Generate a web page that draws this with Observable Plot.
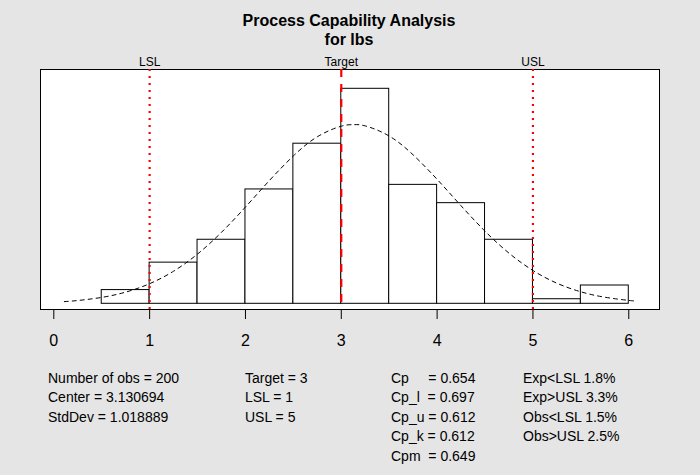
<!DOCTYPE html>
<html>
<head>
<meta charset="utf-8">
<script src="https://cdn.jsdelivr.net/npm/d3@7"></script>
<script src="https://cdn.jsdelivr.net/npm/@observablehq/plot@0.6"></script>
<style>
  html, body { margin: 0; padding: 0; background: #e5e5e5; }
  #wrap { position: relative; width: 700px; height: 475px; background: #e5e5e5; overflow: hidden;
          font-family: "Liberation Sans", Arial, sans-serif; color: #000; }
  #title { position: absolute; left: 0; width: 698px; top: 11px; text-align: center;
           font-weight: bold; font-size: 16px; line-height: 19px; }
  #chart { position: absolute; left: 0; top: 50px; }
  .stats { position: absolute; top: 368.5px; font-size: 14px; line-height: 19.5px; white-space: pre; }
</style>
</head>
<body>
<div id="wrap">
  <div id="title"></div>
  <div id="chart"></div>
  <div class="stats" id="s1" style="left:48px"></div>
  <div class="stats" id="s2" style="left:245px"></div>
  <div class="stats" id="s3" style="left:391px"></div>
  <div class="stats" id="s4" style="left:523px"></div>
</div>
<script>
// ---- data ----
const titleLines = ["Process Capability Analysis", "for lbs"];
const binLo  = [0.5, 1.0, 1.5, 2.0, 2.5, 3.0, 3.5, 4.0, 4.5, 5.0, 5.5];
const binHi  = [1.0, 1.5, 2.0, 2.5, 3.0, 3.5, 4.0, 4.5, 5.0, 5.5, 6.0];
const counts = [3, 9, 14, 25, 35, 47, 26, 22, 14, 1, 4];
const nObs = 200;

// fitted normal density curve
const curveX = [0.11, 0.25, 0.5, 0.75, 1.0, 1.25, 1.5, 1.75, 2.0, 2.25, 2.5, 2.75, 3.0, 3.13, 3.25, 3.5, 3.75, 4.0, 4.25, 4.5, 4.75, 5.0, 5.25, 5.5, 5.75, 6.0, 6.08];
const curveY = [0.0048, 0.0072, 0.0140, 0.0255, 0.0440, 0.0713, 0.1088, 0.1563, 0.2115, 0.2695, 0.3233, 0.3652, 0.3883, 0.3916, 0.3889, 0.3667, 0.3255, 0.2721, 0.2142, 0.1587, 0.1107, 0.0728, 0.0450, 0.0262, 0.0144, 0.0074, 0.0059];

const specLabels = ["LSL", "Target", "USL"];
const specValues = [1, 3, 5];
const specDash   = ["2,5", "8,7", "2,5"];

const xTicks = [0, 1, 2, 3, 4, 5, 6];
const xDomain = [-0.1388, 6.3206];
const yDomain = [-0.01246, 0.5122];

const statsCol1 = ["Number of obs = 200", "Center = 3.130694", "StdDev = 1.018889"];
const statsCol2 = ["Target = 3", "LSL = 1", "USL = 5"];
const statsCol3 = ["Cp     = 0.654", "Cp_l  = 0.697", "Cp_u = 0.612", "Cp_k = 0.612", "Cpm  = 0.649"];
const statsCol4 = ["Exp<LSL 1.8%", "Exp>USL 3.3%", "Obs<LSL 1.5%", "Obs>USL 2.5%"];

// ---- build tables ----
const bins = counts.map((c, i) => ({lo: binLo[i], hi: binHi[i], density: c / (nObs * (binHi[i] - binLo[i]))}));
const curve = curveX.map((x, i) => ({x, y: curveY[i]}));
const specs = specValues.map((v, i) => ({value: v, label: specLabels[i], dash: specDash[i]}));

document.getElementById("title").innerHTML = titleLines.join("<br>");
document.getElementById("s1").textContent = statsCol1.join("\n");
document.getElementById("s2").textContent = statsCol2.join("\n");
document.getElementById("s3").textContent = statsCol3.join("\n");
document.getElementById("s4").textContent = statsCol4.join("\n");

const red = "#ff0000";

const plot = Plot.plot({
  width: 700,
  height: 310,
  marginLeft: 40,
  marginRight: 41,
  marginTop: 19,
  marginBottom: 51,
  style: {background: "transparent", fontFamily: "'Liberation Sans', Arial, sans-serif", color: "#000", overflow: "visible"},
  x: {domain: xDomain, axis: null},
  y: {domain: yDomain, axis: null},
  marks: [
    Plot.frame({fill: "white", stroke: "black", strokeWidth: 1}),
    Plot.rectY(bins, {x1: "lo", x2: "hi", y1: 0, y2: "density", fill: "white", stroke: "black", strokeWidth: 1, inset: 0}),
    Plot.line(curve, {x: "x", y: "y", stroke: "black", strokeWidth: 1, strokeDasharray: "4,4", curve: "natural"}),
    Plot.ruleX(specs.filter(d => d.label !== "Target"), {x: "value", stroke: red, strokeWidth: 2.2, strokeDasharray: "2,5"}),
    Plot.ruleX(specs.filter(d => d.label === "Target"), {x: "value", stroke: red, strokeWidth: 2.2, strokeDasharray: "8,7"}),
    Plot.text(specs, {x: "value", text: "label", frameAnchor: "top", lineAnchor: "bottom", dy: -4, fontSize: 12, fill: "black"}),
    Plot.axisX({ticks: xTicks, tickSize: 10, tickPadding: 15, fontSize: 16, tickFormat: d => String(d), anchor: "bottom", stroke: "black"})
  ]
});
document.getElementById("chart").appendChild(plot);
</script>
</body>
</html>
